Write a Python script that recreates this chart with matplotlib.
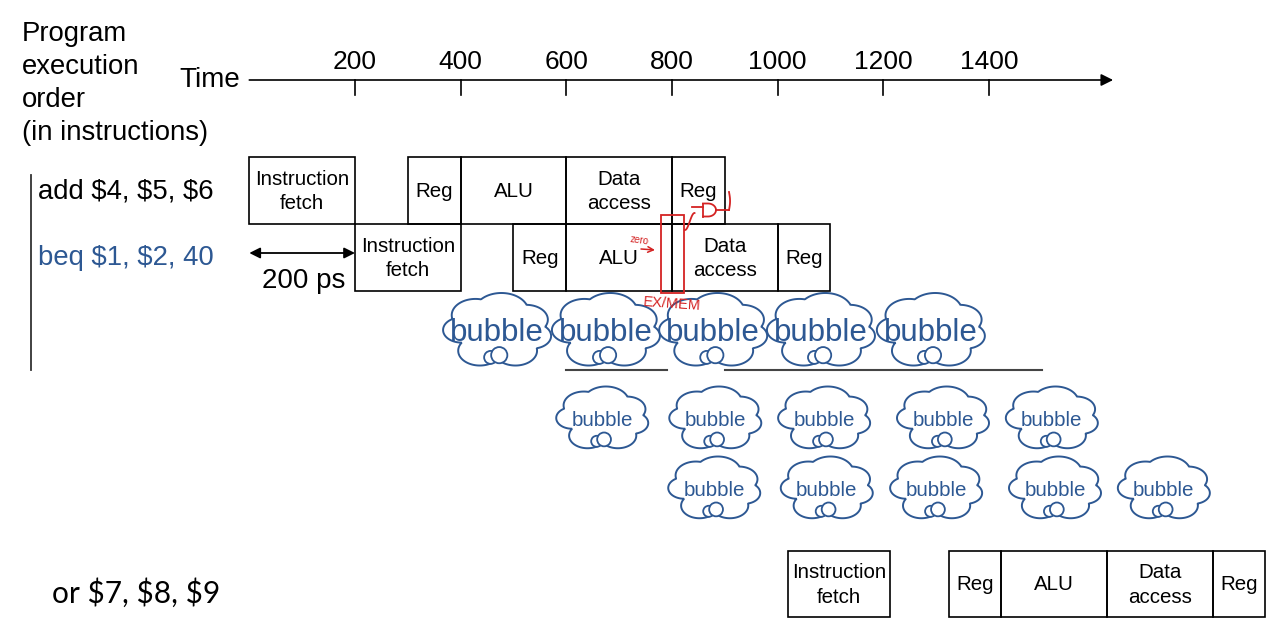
import numpy as np
import matplotlib
matplotlib.use('Agg')
import matplotlib.pyplot as plt
from matplotlib.patches import Rectangle, Polygon, Ellipse

plt.rcParams['font.family'] = ['Liberation Sans', 'DejaVu Sans']

# time axis (ps)
tick_times = [200, 400, 600, 800, 1000, 1200, 1400]
axis_end = 1635

# pipeline stages (ps)
stage_names = ['Instruction\nfetch', 'Reg', 'ALU', 'Data\naccess', 'Reg']
add_starts = [0, 300, 400, 600, 800]
add_ends = [200, 400, 600, 800, 900]
beq_starts = [200, 500, 600, 800, 1000]
beq_ends = [400, 600, 800, 1000, 1100]
or_starts = [1020, 1325, 1423, 1623, 1824]
or_ends = [1212, 1423, 1623, 1824, 1922]

# bubble centres (ps)
bubble_row1 = [469, 675, 878, 1082, 1290]
bubble_row2 = [668, 882, 1088, 1313, 1519]
bubble_row3 = [880, 1093, 1300, 1525, 1731]

# underline segments below first bubble row (ps)
underlines = [(600, 790), (900, 1500)]

PX = 0.52833      # pixels per ps
X0 = 249.3        # pixel of t = 0
BLUE = '#2d5893'
RED = '#d42323'


def px(p):
    # pixel column -> time units
    return (p - X0) / PX


fig = plt.figure(figsize=(12.8, 6.41), dpi=100)
ax = fig.add_axes([0, 0, 1, 1])
ax.set_xlim(px(0), px(1280))
ax.set_ylim(641, 0)
ax.axis('off')

# left labels
for i, line in enumerate(['Program', 'execution', 'order', '(in instructions)']):
    ax.text(px(22), 34 + i * 33, line, fontsize=19.8, va='center', ha='left')
ax.text(px(240), 80, 'Time', fontsize=20, va='center', ha='right')
ax.text(px(38), 192, r'add \$4, \$5, \$6', fontsize=19.8, va='center')
ax.text(px(38), 258, r'beq \$1, \$2, 40', fontsize=19.8, va='center', color=BLUE)
ax.text(px(52), 593, r'or \$7, \$8, \$9', fontsize=21.5, va='center',
        family=['Lato', 'DejaVu Sans'])
ax.plot([px(31), px(31)], [175, 370], color='#333333', lw=1.3)

# time axis
ax.annotate('', xy=(axis_end, 80), xytext=(0, 80),
            arrowprops=dict(arrowstyle='-|>', color='black', lw=1.2,
                            mutation_scale=18, shrinkA=0, shrinkB=0))
for t in tick_times:
    ax.plot([t, t], [80, 95], color='black', lw=1.2)
    ax.text(t, 62, str(t), fontsize=19, ha='center', va='center')

# 200 ps marker
ax.annotate('', xy=(0, 253), xytext=(200, 253),
            arrowprops=dict(arrowstyle='<|-|>', color='black', lw=1.3,
                            mutation_scale=16, shrinkA=0, shrinkB=0))
ax.text(px(304), 281, '200 ps', fontsize=20, ha='center', va='center')


def draw_row(starts, ends, top, height):
    for name, s, e in zip(stage_names, starts, ends):
        ax.add_patch(Rectangle((s, top), e - s, height, fill=False,
                               ec='black', lw=1.2, zorder=3))
        ax.text((s + e) / 2, top + height / 2 + 1, name, fontsize=14.8,
                ha='center', va='center', linespacing=1.35, zorder=4)


draw_row(add_starts, add_ends, 157, 67)
draw_row(beq_starts, beq_ends, 224, 67)
draw_row(or_starts, or_ends, 551, 66)

# cloud shape: outer boundary of a union of lobes
lobes = [(0.0, 0.02, 0.30), (-0.33, 0.0, 0.17), (-0.2, -0.2, 0.22),
         (0.04, -0.25, 0.25), (0.27, -0.14, 0.2), (0.33, 0.08, 0.17),
         (0.17, 0.28, 0.2), (-0.16, 0.28, 0.2)]
theta = np.linspace(0, 2 * np.pi, 400)
d = np.stack([np.cos(theta), np.sin(theta)], axis=1)
rad = np.zeros_like(theta)
for cx, cy, r in lobes:
    dc = d[:, 0] * cx + d[:, 1] * cy
    disc = dc ** 2 - (cx ** 2 + cy ** 2) + r ** 2
    tt = np.where(disc >= 0, dc + np.sqrt(np.clip(disc, 0, None)), 0)
    rad = np.maximum(rad, tt)
cloud_x = d[:, 0] * rad
cloud_y = d[:, 1] * rad


def draw_cloud(tc, yc, w_px, h_px, fs):
    w = w_px / PX
    pts = np.stack([tc + cloud_x * w, yc + cloud_y * h_px], axis=1)
    ax.add_patch(Polygon(pts, closed=True, fc='white', ec=BLUE, lw=1.4, zorder=5))
    for ox, oy, r in [(-0.06, 0.37, 0.06), (0.02, 0.34, 0.075)]:
        ax.add_patch(Ellipse((tc + ox * w, yc + oy * h_px), 2 * r * w,
                             2 * r * w_px, fc='white', ec=BLUE,
                             lw=1.3, zorder=6))
    ax.text(tc, yc + 3, 'bubble', fontsize=fs, color=BLUE, ha='center',
            va='center', zorder=7)


for t in bubble_row1:
    draw_cloud(t, 330, 108, 74, 22.5)
for t in bubble_row2:
    draw_cloud(t, 418, 92, 63, 14.8)
for t in bubble_row3:
    draw_cloud(t, 488, 92, 63, 14.8)

for s, e in underlines:
    ax.plot([s, e], [370, 370], color='#444444', lw=1.5, zorder=2)

# red annotations: EX/MEM register and branch AND gate
ax.add_patch(Rectangle((px(661), 215), px(684) - px(661), 78, fill=False,
                       ec=RED, lw=1.3, zorder=8))
ax.text(px(672), 304, 'EX/MEM', fontsize=10.5, color=RED, ha='center',
        va='center', rotation=-4, zorder=8)
ax.text(px(639), 240, 'zero', fontsize=7, color=RED, ha='center',
        va='center', rotation=-8, zorder=8)
ax.annotate('', xy=(px(655), 250), xytext=(px(641), 249),
            arrowprops=dict(arrowstyle='->', color=RED, lw=1.1,
                            shrinkA=0, shrinkB=0), zorder=8)
ga = np.linspace(-np.pi / 2, np.pi / 2, 30)
gate_x = np.concatenate([[px(703)], px(708) + np.cos(ga) * (px(716) - px(708)), [px(703)]])
gate_y = np.concatenate([[216.5], 210 + np.sin(ga) * -6.5, [203.5]])
ax.plot(gate_x, gate_y, color=RED, lw=1.3, zorder=8)
ax.plot([px(703), px(703)], [203.5, 216.5], color=RED, lw=1.3, zorder=8)
ax.plot([px(692), px(703)], [207, 207], color=RED, lw=1.3, zorder=8)
cu = np.linspace(0, 1, 30)
ax.plot(px(685) + cu * 18, 230 - 17 * np.sin(cu * np.pi / 2) ** 2, color=RED,
        lw=1.3, zorder=8)
ax.plot([px(716), px(729)], [210, 210], color=RED, lw=1.3, zorder=8)
ax.plot(px(729) + 2 * np.sin(cu * np.pi), 210 - cu * 18, color=RED, lw=1.3, zorder=8)

fig.savefig('out.png', dpi=100)
